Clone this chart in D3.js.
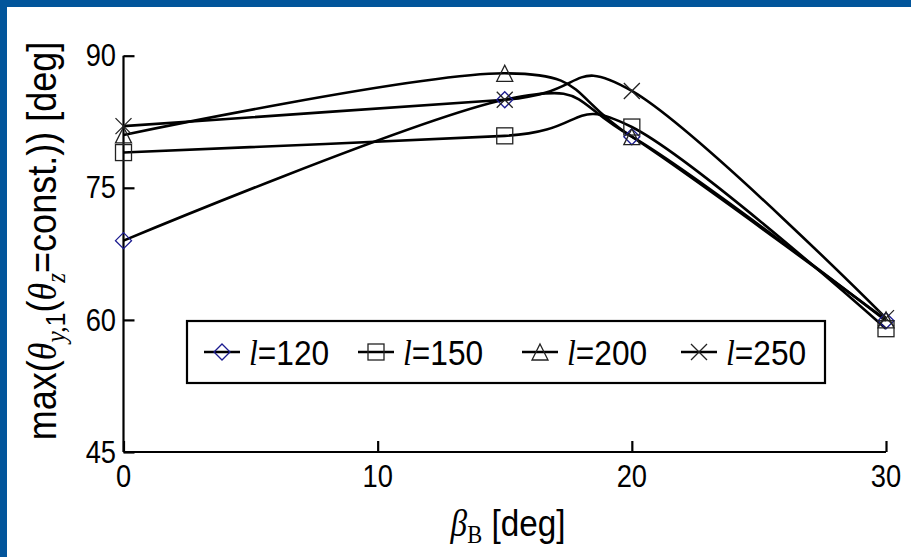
<!DOCTYPE html>
<html><head><meta charset="utf-8">
<script src="https://cdn.jsdelivr.net/npm/d3@7"></script>
<style>body{margin:0;background:#fff}svg{display:block}</style>
</head><body>
<svg id="c" width="911" height="557"></svg>
<script>
const xValues = [0, 15, 20, 30];
const seriesNames = ["120", "150", "200", "250"];
const l120 = [69, 85, 80.8, 59.9];
const l150 = [79, 80.9, 81.9, 59];
const l200 = [81, 88, 80.8, 60];
const l250 = [82, 85, 86, 60.2];
const xTicks = [0, 10, 20, 30];
const yTicks = [45, 60, 75, 90];

const seriesValues = [l120, l150, l200, l250];
const markerTypes = ["diamond", "square", "triangle", "cross"];
const markerColors = ["#1b1b8f", "#222", "#222", "#222"];

const svg = d3.select("#c");
const FONT = "'Liberation Sans', Arial, sans-serif";
const SERIF = "'Liberation Serif', 'Times New Roman', serif";

// frame
svg.append("rect").attr("x",0).attr("y",0).attr("width",911).attr("height",7).attr("fill","#02559b");
svg.append("rect").attr("x",0).attr("y",0).attr("width",7).attr("height",557).attr("fill","#02559b");

const x = d3.scaleLinear().domain([0, 30]).range([123.5, 886]);
const y = d3.scaleLinear().domain([45, 90]).range([452, 55.7]);

// axes
const yAxis = d3.axisRight(y).tickValues(yTicks).tickSize(11).tickFormat("");
const gy = svg.append("g").attr("transform", `translate(${x(0)},0)`).call(yAxis);
const xAxis = d3.axisTop(x).tickValues(xTicks).tickSize(11).tickFormat("");
const gx = svg.append("g").attr("transform", `translate(0,${y(45)})`).call(xAxis);
[gx, gy].forEach(g => {
  g.select(".domain").attr("stroke", "#000").attr("stroke-width", 2.2);
  g.selectAll(".tick line").attr("stroke", "#000").attr("stroke-width", 2.2);
});
gy.select(".domain").attr("d", `M0,${y(90)}H0V${y(45)}`);
gx.select(".domain").attr("d", `M${x(0)},0V0H${x(30)}`);

// tick labels (tall, slightly condensed)
svg.append("g").selectAll("text").data(yTicks).join("text")
  .attr("transform", d => `translate(116,${y(d)}) scale(0.88,1)`)
  .attr("text-anchor", "end").attr("dominant-baseline", "central")
  .attr("font-family", FONT).attr("font-size", 31).text(d => d);
svg.append("g").selectAll("text").data(xTicks).join("text")
  .attr("transform", d => `translate(${x(d)},476) scale(0.88,1)`)
  .attr("text-anchor", "middle").attr("dominant-baseline", "central")
  .attr("font-family", FONT).attr("font-size", 31).text(d => d);

// lines
const line = d3.line().x((d, i) => x(xValues[i])).y(d => y(d)).curve(d3.curveCardinal.tension(0));
svg.append("g").selectAll("path").data(seriesValues).join("path")
  .attr("d", d => line(d)).attr("fill", "none").attr("stroke", "#000").attr("stroke-width", 2.6);

function drawMarker(g, type, color, cx, cy) {
  const s = 8;
  if (type === "diamond") {
    g.append("path").attr("d", `M${cx},${cy-s}L${cx+s},${cy}L${cx},${cy+s}L${cx-s},${cy}Z`)
      .attr("fill", "none").attr("stroke", color).attr("stroke-width", 1.3);
  } else if (type === "square") {
    g.append("rect").attr("x", cx-s).attr("y", cy-s).attr("width", 2*s).attr("height", 2*s)
      .attr("fill", "none").attr("stroke", color).attr("stroke-width", 1.3);
  } else if (type === "triangle") {
    g.append("path").attr("d", `M${cx},${cy-s}L${cx+s},${cy+s}L${cx-s},${cy+s}Z`)
      .attr("fill", "none").attr("stroke", color).attr("stroke-width", 1.3);
  } else {
    g.append("path").attr("d", `M${cx-s},${cy-s}L${cx+s},${cy+s}M${cx+s},${cy-s}L${cx-s},${cy+s}`)
      .attr("fill", "none").attr("stroke", color).attr("stroke-width", 1.3);
  }
}

const gm = svg.append("g");
seriesValues.forEach((vals, si) => {
  vals.forEach((v, i) => drawMarker(gm, markerTypes[si], markerColors[si], x(xValues[i]), y(v)));
});

// legend
const lg = svg.append("g");
lg.append("rect").attr("x", 187).attr("y", 321).attr("width", 638).attr("height", 62)
  .attr("fill", "#fff").attr("stroke", "#000").attr("stroke-width", 2.2);
const legX = [222, 376, 540, 699];
seriesNames.forEach((nm, i) => {
  const cx = legX[i], cy = 352;
  lg.append("line").attr("x1", cx-18).attr("x2", cx+18).attr("y1", cy).attr("y2", cy)
    .attr("stroke", "#000").attr("stroke-width", 2.6);
  drawMarker(lg, markerTypes[i], markerColors[i], cx, cy);
  const t = lg.append("text").attr("transform", `translate(${cx+27},${cy}) scale(0.88,1)`)
    .attr("dominant-baseline", "central")
    .attr("font-family", FONT).attr("font-size", 36);
  t.append("tspan").attr("font-family", SERIF).attr("font-style", "italic").text("l");
  t.append("tspan").text("=" + nm);
});

// y title
const yt = svg.append("text").attr("transform", "translate(56,241) rotate(-90) scale(0.9,1)")
  .attr("text-anchor", "middle").attr("font-family", FONT).attr("font-size", 40);
yt.append("tspan").text("max(");
yt.append("tspan").attr("font-family", SERIF).attr("font-style", "italic").text("θ");
yt.append("tspan").attr("font-family", SERIF).attr("font-style", "italic").attr("font-size", 28).attr("dy", 9).text("y,");
yt.append("tspan").attr("font-size", 28).text("1");
yt.append("tspan").attr("dy", -9).text("(");
yt.append("tspan").attr("font-family", SERIF).attr("font-style", "italic").text("θ");
yt.append("tspan").attr("font-family", SERIF).attr("font-style", "italic").attr("font-size", 28).attr("dy", 9).text("z");
yt.append("tspan").attr("dy", -9).text("=const.)) [deg]");

// x title
const xt = svg.append("text").attr("transform", "translate(508,536) scale(0.9,1)")
  .attr("text-anchor", "middle").attr("font-family", FONT).attr("font-size", 37);
xt.append("tspan").attr("font-family", SERIF).attr("font-style", "italic").text("β");
xt.append("tspan").attr("font-family", SERIF).attr("font-size", 25).attr("dy", 7).text("B");
xt.append("tspan").attr("dy", -7).text(" [deg]");
</script>
</body></html>
